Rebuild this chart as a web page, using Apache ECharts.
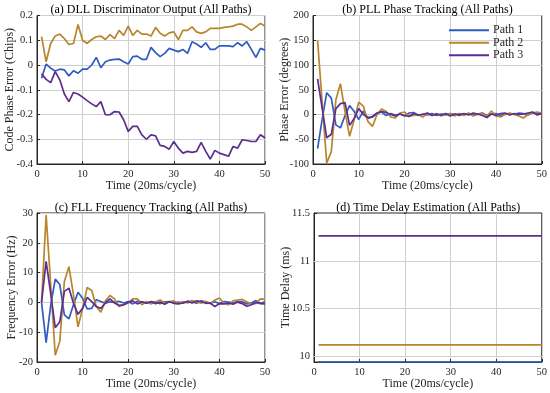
<!DOCTYPE html>
<html>
<head>
<meta charset="utf-8">
<script src="https://cdn.jsdelivr.net/npm/echarts@6.0.0/dist/echarts.min.js"></script>
<style>
html,body{margin:0;padding:0;background:#fff;}
#chart{width:550px;height:393px;}
</style>
</head>
<body>
<div id="chart"></div>
<script>
const time = [1,2,3,4,5,6,7,8,9,10,11,12,13,14,15,16,17,18,19,20,21,22,23,24,25,26,27,28,29,30,31,32,33,34,35,36,37,38,39,40,41,42,43,44,45,46,47,48,49,50];
const pathNames = ['Path 1', 'Path 2', 'Path 3'];

const dllP1 = [-0.054,0.004,-0.013,-0.024,-0.017,-0.02,-0.044,-0.023,-0.033,-0.017,-0.017,0,0.031,-0.011,0.013,0.02,0.023,0.024,0.013,0.004,0.034,0.036,0.023,0.023,0.071,0.05,0.034,0.047,0.067,0.06,0.054,0.063,0.047,0.094,0.085,0.071,0.09,0.063,0.063,0.077,0.077,0.077,0.074,0.09,0.077,0.094,0.063,0.031,0.067,0.06];
const dllP2 = [0.115,0.013,0.087,0.117,0.125,0.107,0.083,0.087,0.164,0.1,0.087,0.103,0.114,0.117,0.103,0.123,0.107,0.14,0.12,0.157,0.12,0.14,0.125,0.125,0.117,0.152,0.128,0.117,0.13,0.134,0.103,0.14,0.14,0.154,0.134,0.128,0.134,0.148,0.148,0.148,0.152,0.154,0.157,0.165,0.165,0.154,0.14,0.154,0.168,0.157];
const dllP3 = [-0.036,-0.058,-0.071,-0.027,-0.06,-0.117,-0.148,-0.111,-0.117,-0.13,-0.144,-0.157,-0.168,-0.148,-0.201,-0.201,-0.188,-0.19,-0.221,-0.268,-0.248,-0.248,-0.282,-0.3,-0.282,-0.286,-0.325,-0.329,-0.34,-0.309,-0.336,-0.356,-0.349,-0.353,-0.349,-0.313,-0.349,-0.38,-0.345,-0.356,-0.362,-0.369,-0.329,-0.336,-0.302,-0.305,-0.309,-0.309,-0.282,-0.295];

const pllP1 = [-69,-10,44,33,-21,-27,-2,18,6,-10,7,-8,-5,2,5,-2,2,-1,1,-3,3,4,-2,1,-1,2,-2,1,-1,2,0,-2,1,2,-1,1,3,-2,1,2,-2,1,2,0,3,2,-1,4,2,1];
const pllP2 = [150,25,-98,-75,30,62,6,-44,-10,25,17,-14,-24,0,11,6,-5,-7,3,5,-3,-2,0,-5,2,-2,2,-3,0,2,-3,2,-2,3,-3,0,2,-3,7,-3,-5,0,3,0,-3,-7,0,3,5,3];
const pllP3 = [72,13,-47,-40,12,22,24,-22,-8,12,0,-6,-4,3,6,4,0,-3,1,-2,-4,2,-1,0,3,-2,1,-1,2,-3,1,0,2,-1,3,1,-2,-6,1,-2,2,3,-1,2,0,1,3,5,-1,2];

const fllP1 = [0,-13.5,-1,7.8,6,-4.2,-5.5,-0.8,3.4,1.4,-2.2,-2,0.9,0.3,-0.3,0.2,0,0.4,-0.2,0.3,-0.5,0.4,0.2,-0.3,0.3,0.1,-0.4,0.2,0.3,-0.2,0.1,-0.3,0.4,0.2,-0.3,0.5,0.1,-0.2,0.2,-0.4,0.3,0.1,-0.2,0.3,0.2,-0.5,-0.2,0.6,-0.3,0.2];
const fllP2 = [0,29.3,6,-17.7,-13,7,12,2.5,-8.2,-2,5,4,-1.4,-3.3,0.5,2.3,1.2,-1.4,-0.8,-0.2,1.2,1.2,-0.8,0.3,-0.5,0.2,0.8,-0.3,0.2,0.5,-0.4,0.3,-0.2,0.6,0.2,-0.3,0.4,-0.5,0.8,1.5,-0.3,-0.8,0.5,0.8,1.0,0.2,-0.6,-0.3,1.2,1.0];
const fllP3 = [0,13.8,3,-8.5,-6.5,3.7,4.8,-0.3,-4,-2,1.7,0.3,-1.4,-2,-0.2,1.2,-0.2,-1,-0.8,0,0.5,-0.5,0.2,-0.3,0.2,-0.4,0.1,-0.6,0.2,-0.3,-0.5,-0.2,0.3,-0.2,0.5,0.3,-0.3,-0.2,-1.4,-0.4,-0.5,-0.2,-0.6,0.1,-0.4,-1.3,-0.8,0,-0.4,-0.5];

const delayP1 = [9.94,9.94,9.94,9.94,9.94,9.94,9.94,9.94,9.94,9.94,9.94,9.94,9.94,9.94,9.94,9.94,9.94,9.94,9.94,9.94,9.94,9.94,9.94,9.94,9.94,9.94,9.94,9.94,9.94,9.94,9.94,9.94,9.94,9.94,9.94,9.94,9.94,9.94,9.94,9.94,9.94,9.94,9.94,9.94,9.94,9.94,9.94,9.94,9.94,9.94];
const delayP2 = [10.12,10.12,10.12,10.12,10.12,10.12,10.12,10.12,10.12,10.12,10.12,10.12,10.12,10.12,10.12,10.12,10.12,10.12,10.12,10.12,10.12,10.12,10.12,10.12,10.12,10.12,10.12,10.12,10.12,10.12,10.12,10.12,10.12,10.12,10.12,10.12,10.12,10.12,10.12,10.12,10.12,10.12,10.12,10.12,10.12,10.12,10.12,10.12,10.12,10.12];
const delayP3 = [11.26,11.26,11.26,11.26,11.26,11.26,11.26,11.26,11.26,11.26,11.26,11.26,11.26,11.26,11.26,11.26,11.26,11.26,11.26,11.26,11.26,11.26,11.26,11.26,11.26,11.26,11.26,11.26,11.26,11.26,11.26,11.26,11.26,11.26,11.26,11.26,11.26,11.26,11.26,11.26,11.26,11.26,11.26,11.26,11.26,11.26,11.26,11.26,11.26,11.26];

const delayTicks = [10, 10.5, 11, 11.5];
const colors = ['#2f5cc0', '#b8852a', '#5b2e8f'];

const FONT = '"Liberation Serif", "Times New Roman", serif';
const TXT = '#262626';
const GRIDC = '#cfcfcf';

const panels = [
  {title: '(a) DLL Discriminator Output (All Paths)', yName: 'Code Phase Error (Chips)', series: [dllP1, dllP2, dllP3], min: -0.4, max: 0.2, interval: 0.1, grid: {left: 37, top: 15.5, width: 228, height: 148.5}, nameGap: 21.5},
  {title: '(b) PLL Phase Tracking (All Paths)', yName: 'Phase Error (degrees)', series: [pllP1, pllP2, pllP3], min: -100, max: 200, interval: 50, grid: {left: 313, top: 15.5, width: 229, height: 148.5}, nameGap: 22},
  {title: '(c) FLL Frequency Tracking (All Paths)', yName: 'Frequency Error (Hz)', series: [fllP1, fllP2, fllP3], min: -20, max: 30, interval: 10, grid: {left: 37, top: 213, width: 228, height: 149}, nameGap: 19},
  {title: '(d) Time Delay Estimation (All Paths)', yName: 'Time Delay (ms)', series: [delayP1, delayP2, delayP3], min: 9.94, max: 11.5, custom: delayTicks, grid: {left: 314, top: 213, width: 228.5, height: 149}, nameGap: 22}
];

const option = {
  animation: false,
  backgroundColor: '#fff',
  textStyle: {fontFamily: FONT},
  title: [], grid: [], xAxis: [], yAxis: [], series: [],
  legend: {
    data: pathNames,
    orient: 'vertical',
    left: 449, top: 24,
    itemWidth: 40, itemHeight: 2,
    itemGap: 0,
    icon: 'rect',
    textStyle: {fontFamily: FONT, fontSize: 12, color: TXT, lineHeight: 12.5, padding: [0,0,0,-1]},
    padding: 0,
    selectedMode: false
  }
};

panels.forEach((p, i) => {
  const g = p.grid;
  option.grid.push(Object.assign({show: true, borderColor: TXT, borderWidth: 1, containLabel: false}, g));
  option.title.push({
    text: p.title,
    left: g.left + g.width / 2,
    textAlign: 'center',
    top: g.top - 11.5,
    padding: 0,
    textStyle: {fontFamily: FONT, fontSize: 12, fontWeight: 'normal', color: '#000'}
  });
  option.xAxis.push({
    type: 'value', gridIndex: i, min: 0, max: 50, interval: 10,
    name: 'Time (20ms/cycle)', nameLocation: 'middle', nameGap: 16, nameMoveOverlap: false,
    nameTextStyle: {fontFamily: FONT, fontSize: 12, color: TXT},
    axisLine: {show: true, onZero: false, lineStyle: {color: TXT, width: 1}},
    axisTick: {show: true, inside: true, length: 3, lineStyle: {color: TXT}},
    axisLabel: {fontFamily: FONT, fontSize: 10.5, color: TXT, margin: 5},
    splitLine: {show: true, lineStyle: {color: GRIDC, width: 1, type: 'solid'}}
  });
  const y = {
    type: 'value', gridIndex: i, min: p.min, max: p.max,
    name: p.yName, nameLocation: 'middle', nameGap: p.nameGap, nameMoveOverlap: false,
    nameTextStyle: {fontFamily: FONT, fontSize: 12, color: TXT},
    axisLine: {show: true, onZero: false, lineStyle: {color: TXT, width: 1}},
    axisTick: {show: true, inside: true, length: 3, lineStyle: {color: TXT}},
    axisLabel: {fontFamily: FONT, fontSize: 10.5, color: TXT, margin: 4},
    splitLine: {show: true, lineStyle: {color: GRIDC, width: 1, type: 'solid'}}
  };
  if (p.custom) {
    y.axisLabel.customValues = p.custom;
    y.axisTick.customValues = p.custom;
    y.splitLine.show = false;
  } else {
    y.interval = p.interval;
  }
  option.yAxis.push(y);
  p.series.forEach((arr, k) => {
    const s = {
      name: pathNames[k], type: 'line', xAxisIndex: i, yAxisIndex: i,
      data: time.map((t, j) => [t, arr[j]]),
      symbol: 'none', showSymbol: false,
      lineStyle: {color: colors[k], width: 1.7},
      itemStyle: {color: colors[k]},
      clip: false
    };
    if (p.custom && k === 0) {
      s.markLine = {
        silent: true, symbol: 'none', animation: false,
        label: {show: false},
        lineStyle: {color: GRIDC, width: 1, type: 'solid'},
        emphasis: {disabled: true},
        data: p.custom.filter(v => v > p.min && v < p.max).map(v => ({yAxis: v}))
      };
      s.z = 1;
    }
    option.series.push(s);
  });
});

const chart = echarts.init(document.getElementById('chart'), null, {renderer: 'canvas'});
chart.setOption(option);
</script>
</body>
</html>
